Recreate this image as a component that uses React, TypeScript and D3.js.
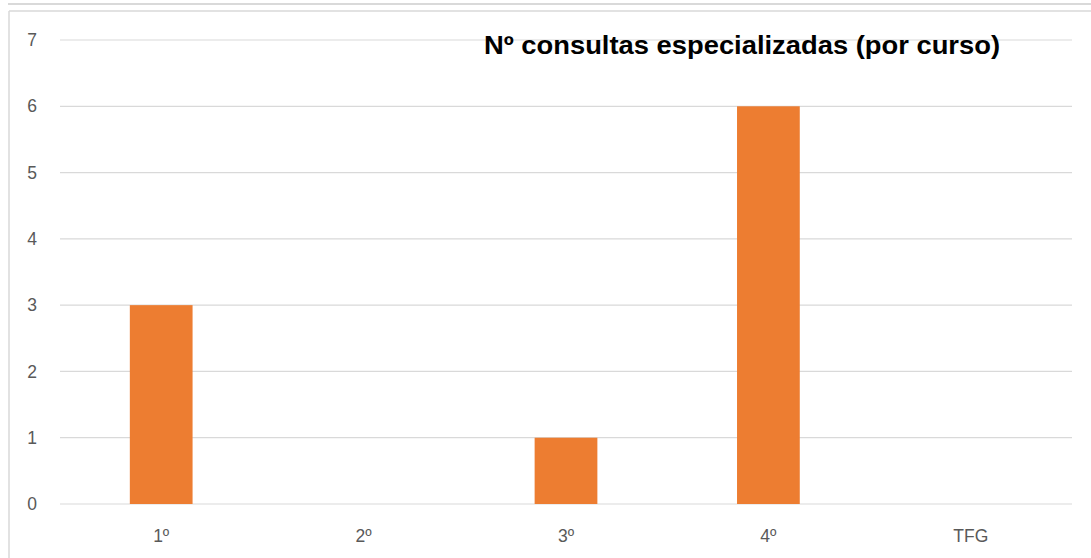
import React from "react";
import * as d3 from "d3";

const categories = ["1º", "2º", "3º", "4º", "TFG"];
const values = [3, 0, 1, 6, 0];
const yTicks = [0, 1, 2, 3, 4, 5, 6, 7];
const title = "Nº consultas especializadas (por curso)";

export default function App() {
  const W = 1091, H = 558;
  const x0 = 60, x1 = 1072, y0 = 504, y1 = 40;
  const x = d3.scaleBand<string>().domain(categories).range([x0, x1]).paddingInner(0.69).paddingOuter(0.345);
  const y = d3.scaleLinear().domain([0, 7]).range([y0, y1]);
  const font = "'Liberation Sans', Arial, sans-serif";
  return (
    <svg width={W} height={H} style={{ position: "absolute", left: 0, top: 0, background: "#fff" }}>
      <line x1={8} x2={W} y1={4} y2={4} stroke="#d9d9d9" strokeWidth={2} />
      <line x1={9} x2={W} y1={11} y2={11} stroke="#d9d9d9" strokeWidth={1.5} />
      <line x1={9} x2={9} y1={11} y2={H} stroke="#d9d9d9" strokeWidth={1.5} />
      {yTicks.map((t) => (
        <g key={t}>
          <line x1={x0} x2={x1} y1={y(t)} y2={y(t)} stroke="#d9d9d9" strokeWidth={1.2} />
          <text x={32} y={y(t)} dy="0.35em" textAnchor="middle" fontFamily={font} fontSize={17.5} fill="#595959">{t}</text>
        </g>
      ))}
      {categories.map((c, i) => (
        <g key={c}>
          {values[i] > 0 && (
            <rect x={x(c)} y={y(values[i])} width={x.bandwidth()} height={y(0) - y(values[i])} fill="#ED7D31" />
          )}
          <text x={(x(c) as number) + x.bandwidth() / 2} y={536} dy="0.35em" textAnchor="middle" fontFamily={font} fontSize={17.5} fill="#595959">{c}</text>
        </g>
      ))}
      <text x={742} y={45} dy="0.35em" textAnchor="middle" fontFamily={font} fontWeight="bold" fontSize={25} fill="#000" textLength={516} lengthAdjust="spacingAndGlyphs">{title}</text>
    </svg>
  );
}
